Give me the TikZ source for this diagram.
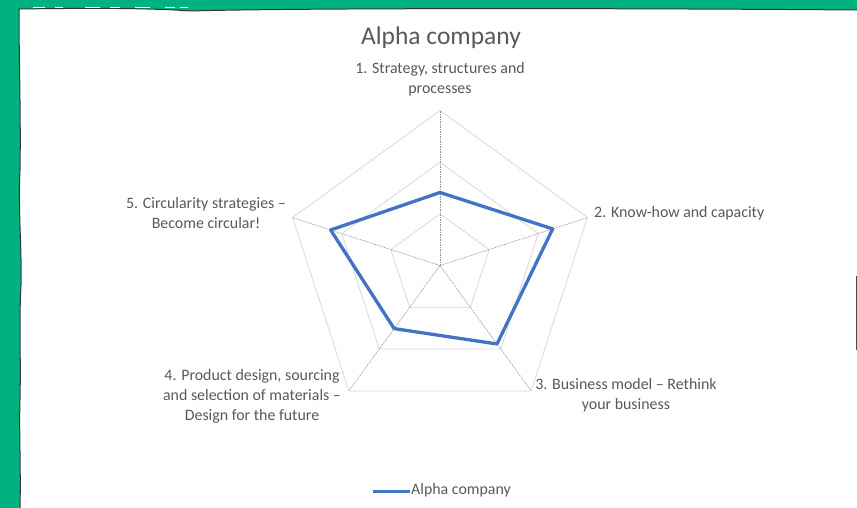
\documentclass[tikz,border=0pt]{standalone}
\usepackage{fontspec}
\setmainfont{Carlito}
\usetikzlibrary{calc}
\definecolor{bggreen}{RGB}{0,178,128}
\definecolor{txtgray}{RGB}{89,89,89}
\definecolor{ringgray}{RGB}{217,217,217}
\definecolor{spokegray}{RGB}{150,150,150}
\definecolor{serblue}{RGB}{68,114,196}
\begin{document}
\begin{tikzpicture}[x=1pt,y=-1pt,
  lbl/.style={text=txtgray, font=\fontsize{15.9}{19.7}\selectfont, align=center, inner sep=0pt},
  ring/.style={draw=ringgray, line width=0.8pt},
  spoke/.style={draw=spokegray, line width=0.6pt, dash pattern=on 1.5pt off 1pt},
  series/.style={draw=serblue, line width=3.3pt, line join=round},
  edge/.style={draw=black!80, line width=1pt}]
\useasboundingbox (0,0) rectangle (857,508);
\fill[bggreen] (0,0) rectangle (857,508);
% white sheet
\fill[white] (857,10) -- (857,510) -- (20,510)
  .. controls (21,470) and (19,430) .. (20,400)
  .. controls (21,360) and (19,320) .. (21,285)
  .. controls (22,250) and (18,210) .. (20,170)
  .. controls (21,120) and (19,60) .. (19,9)
  .. controls (90,8) and (150,8) .. (190,11)
  .. controls (300,8) and (600,8) .. (857,10) -- cycle;
\draw[edge] (20,510)
  .. controls (21,470) and (19,430) .. (20,400)
  .. controls (21,360) and (19,320) .. (21,285)
  .. controls (22,250) and (18,210) .. (20,170)
  .. controls (21,120) and (19,60) .. (19,9)
  .. controls (90,8) and (150,8) .. (190,11)
  .. controls (300,8) and (600,8) .. (857,10);
\draw[black!70, line width=1pt] (856.5,276) -- (856.5,350);
% cut-off white marks at the top
\foreach \xa/\xb in {33/45,55/63,85/100,110/120,135/150,165/175,180/188}
  \draw[white, line width=1.6pt] (\xa,7.5) -- (\xb,7.5);
% radar grid
\coordinate (C) at (440,265.5);
\foreach \r in {51.67,103.33,155}
  \draw[ring] ($(C)+(90:\r pt)$) -- ($(C)+(18:\r pt)$) -- ($(C)+(-54:\r pt)$)
    -- ($(C)+(-126:\r pt)$) -- ($(C)+(162:\r pt)$) -- cycle;
\foreach \i/\a in {1/90,2/18,3/-54,4/-126,5/162}{
  \coordinate (V\i) at ($(C)+(\a:155pt)$);
  \draw[spoke] (C) -- (V\i);
}
% data series
\coordinate (D1) at ($(C)+(90:73pt)$);
\coordinate (D2) at ($(C)+(18:118.5pt)$);
\coordinate (D3) at ($(C)+(-54:97pt)$);
\coordinate (D4) at ($(C)+(-126:78pt)$);
\coordinate (D5) at ($(C)+(162:115pt)$);
\draw[series] (D1) -- (D2) -- (D3) -- (D4) -- (D5) -- cycle;
% labels
\node[text=txtgray, font=\fontsize{25.5}{30}\selectfont, inner sep=0pt] (T) at (441,37.5) {Alpha company};
\node[lbl] (L1) at (440,79.5) {1. Strategy, structures and\\processes};
\node[lbl, anchor=west] (L2) at (594,213) {2. Know-how and capacity};
\node[lbl] (L3) at (626,395.5) {3. Business model – Rethink\\your business};
\node[lbl] (L4) at (252,396.5) {4. Product design, sourcing\\and selection of materials –\\Design for the future};
\node[lbl] (L5) at (206,213) {5. Circularity strategies –\\Become circular!};
% legend
\coordinate (LA) at (373,491);
\coordinate (LB) at (410,491);
\draw[serblue, line width=3pt] (LA) -- (LB);
\node[lbl, anchor=west] (LG) at (411,490) {Alpha company};
\end{tikzpicture}
\end{document}
